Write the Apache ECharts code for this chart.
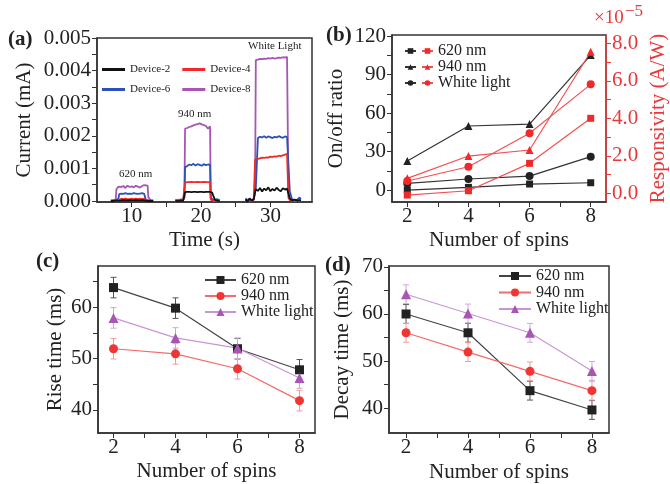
<!DOCTYPE html>
<html>
<head>
<meta charset="utf-8">
<script src="https://cdn.jsdelivr.net/npm/echarts@6/dist/echarts.min.js"></script>
<style>html,body{margin:0;padding:0;background:#fff}#main{width:670px;height:484px}</style>
</head>
<body>
<div id="main"></div>
<script>
// (a) photocurrent (mA) vs time (s), three measurement windows
const t620 = [7.0, 7.4, 7.7, 7.8, 8.1, 8.2, 8.5, 8.8, 9.1, 9.4, 9.7, 10.0, 10.3, 10.6, 10.9, 11.2, 11.5, 11.8, 11.9, 12.0, 12.3, 12.4, 12.7, 13.1];
const d8_620 = [0.00002, 0.00003, 0.00005, 0.00036, 0.00044, 0.00048, 0.00043, 0.00046, 0.00040, 0.00047, 0.00043, 0.00045, 0.00042, 0.00047, 0.00044, 0.00041, 0.00046, 0.00049, 0.00045, 0.00050, 0.00047, 0.00012, 0.00003, 0.00002];
const d6_620 = [0.00001, 0.00002, 0.00002, 0.00003, 0.00008, 0.00021, 0.00023, 0.00022, 0.00024, 0.00022, 0.00023, 0.00022, 0.00024, 0.00023, 0.00022, 0.00023, 0.00024, 0.00022, 0.00023, 0.00006, 0.00002, 0.00001, 0.00002, 0.00001];
const d4_620 = [0.00000, 0.00001, 0.00000, 0.00001, 0.00002, 0.00006, 0.00007, 0.00006, 0.00007, 0.00006, 0.00006, 0.00007, 0.00006, 0.00007, 0.00006, 0.00007, 0.00006, 0.00007, 0.00006, 0.00001, 0.00000, 0.00001, 0.00000, 0.00000];
const d2_620 = [0.00000, 0.00000, 0.00001, 0.00000, 0.00001, 0.00002, 0.00002, 0.00003, 0.00002, 0.00002, 0.00003, 0.00002, 0.00002, 0.00003, 0.00002, 0.00002, 0.00003, 0.00002, 0.00002, 0.00001, 0.00000, 0.00001, 0.00000, 0.00000];

const t940 = [16.3, 16.7, 17.1, 17.4, 17.6, 17.7, 18.0, 18.3, 18.6, 18.9, 19.2, 19.5, 19.8, 20.1, 20.4, 20.7, 21.0, 21.2, 21.3, 21.4, 21.6, 21.8, 22.0, 22.3, 22.7];
const d8_940 = [0.00002, 0.00004, 0.00001, 0.00003, 0.00010, 0.00222, 0.00224, 0.00227, 0.00229, 0.00232, 0.00234, 0.00236, 0.00238, 0.00235, 0.00233, 0.00230, 0.00222, 0.00226, 0.00229, 0.00010, 0.00004, 0.00002, 0.00003, 0.00001, 0.00002];
const d6_940 = [0.00003, 0.00000, 0.00005, 0.00002, 0.00012, 0.00104, 0.00107, 0.00112, 0.00110, 0.00114, 0.00109, 0.00113, 0.00111, 0.00108, 0.00113, 0.00110, 0.00112, 0.00109, 0.00111, 0.00012, 0.00005, 0.00008, 0.00003, 0.00006, 0.00002];
const d4_940 = [0.00000, 0.00001, 0.00000, 0.00001, 0.00004, 0.00056, 0.00058, 0.00058, 0.00059, 0.00058, 0.00058, 0.00059, 0.00058, 0.00058, 0.00059, 0.00058, 0.00058, 0.00058, 0.00057, 0.00004, 0.00001, 0.00000, 0.00001, 0.00000, 0.00000];
const d2_940 = [0.00001, 0.00000, 0.00001, 0.00000, 0.00002, 0.00027, 0.00028, 0.00028, 0.00027, 0.00028, 0.00028, 0.00027, 0.00028, 0.00028, 0.00027, 0.00028, 0.00028, 0.00027, 0.00028, 0.00027, 0.00026, 0.00014, 0.00004, 0.00001, 0.00000];

const tWhite = [26.4, 26.7, 27.0, 27.3, 27.6, 27.8, 27.9, 28.2, 28.5, 28.8, 29.1, 29.4, 29.7, 30.0, 30.3, 30.6, 30.9, 31.2, 31.5, 31.8, 32.1, 32.4, 32.6, 32.8, 33.1, 33.5, 33.9, 34.2, 34.4];
const d8_white = [0.00002, 0.00003, 0.00001, 0.00002, 0.00006, 0.00060, 0.00432, 0.00434, 0.00436, 0.00435, 0.00437, 0.00436, 0.00438, 0.00437, 0.00439, 0.00437, 0.00438, 0.00440, 0.00439, 0.00441, 0.00440, 0.00442, 0.00030, 0.00005, 0.00002, 0.00003, 0.00001, 0.00002, 0.00001];
const d6_white = [0.00008, 0.00003, 0.00006, 0.00002, 0.00005, 0.00010, 0.00040, 0.00193, 0.00197, 0.00195, 0.00199, 0.00194, 0.00198, 0.00196, 0.00193, 0.00197, 0.00195, 0.00199, 0.00196, 0.00194, 0.00198, 0.00196, 0.00199, 0.00030, 0.00006, 0.00003, 0.00004, 0.00011, 0.00005];
const d4_white = [0.00001, 0.00000, 0.00002, 0.00001, 0.00003, 0.00128, 0.00130, 0.00129, 0.00131, 0.00133, 0.00132, 0.00134, 0.00133, 0.00136, 0.00135, 0.00137, 0.00136, 0.00139, 0.00138, 0.00140, 0.00142, 0.00145, 0.00010, 0.00003, 0.00001, 0.00000, 0.00001, 0.00000, 0.00001];
const d2_white = [0.00005, -0.00002, 0.00008, 0.00001, 0.00006, 0.00028, 0.00036, 0.00031, 0.00040, 0.00029, 0.00038, 0.00033, 0.00042, 0.00030, 0.00037, 0.00032, 0.00041, 0.00034, 0.00030, 0.00039, 0.00035, 0.00038, 0.00033, 0.00008, 0.00002, 0.00004, 0.00001, 0.00003, 0.00001];

// (b)-(d) vs number of spins
const spins = [2, 4, 6, 8];
const onoff620 = [0, 2.1, 4.7, 5.7];
const onoff940 = [22.6, 49.9, 51.4, 105.2];
const onoffWhite = [5.2, 8.6, 10.9, 26];
const resp620 = [-0.09, 0.14, 1.6, 4.0];      // x1e-5 A/W
const resp940 = [0.8, 1.99, 2.31, 7.55];
const respWhite = [0.66, 1.42, 3.2, 5.81];

const rise620 = [63.8, 59.8, 51.9, 47.8];
const rise940 = [51.9, 50.9, 48, 41.8];
const riseWhite = [57.9, 54, 52, 46.2];
const riseErr = [2, 2, 2, 2];

const decay620 = [60, 56, 43.7, 39.6];
const decay940 = [56, 51.9, 47.8, 43.7];
const decayWhite = [64.2, 60.1, 56, 47.9];
const decayErr = [2, 2, 2, 2];

const F = 'Liberation Serif';
const INK = '#222';
const BLACK = '#222', RED = '#f02a2a', BLUE = '#2b52b8', PURPLE = '#a855b5';

const zip = (xs, ys) => xs.map((x, i) => [x, ys[i]]);

function xAxisOf(grid, min, max, ticks, labels, name, gap) {
  return {
    gridIndex: grid, type: 'value', min, max,
    name, nameLocation: 'middle', nameGap: gap,
    nameTextStyle: { fontFamily: F, fontSize: 21, color: INK },
    axisLine: { onZero: false, lineStyle: { color: '#333', width: 1.5 } },
    axisTick: { length: 5, lineStyle: { color: '#333' }, customValues: ticks },
    axisLabel: { fontFamily: F, fontSize: 21, color: INK, margin: 4, customValues: labels },
    splitLine: { show: false }
  };
}
function yAxisOf(grid, min, max, ticks, labels, name, gap, fmt, pos, color) {
  const c = color || INK;
  return {
    gridIndex: grid, type: 'value', min, max, position: pos || 'left',
    name, nameLocation: 'middle', nameGap: gap,
    nameTextStyle: { fontFamily: F, fontSize: 21, color: c },
    axisLine: { show: true, onZero: false, lineStyle: { color: color || '#333', width: 1.5 } },
    axisTick: { length: 5, lineStyle: { color: color || '#333' }, customValues: ticks },
    axisLabel: { fontFamily: F, fontSize: 21, color: c, margin: 6, customValues: labels, formatter: fmt },
    splitLine: { show: false }
  };
}

function trace(name, color, t, v) {
  return {
    name, type: 'line', xAxisIndex: 0, yAxisIndex: 0, data: zip(t, v),
    symbol: 'none', lineStyle: { color, width: 1.8 }, itemStyle: { color }
  };
}
function spinLine(name, xi, yi, ys, color, lineColor, symbol, size, width) {
  return {
    name, type: 'line', xAxisIndex: xi, yAxisIndex: yi, data: zip(spins, ys),
    symbol, symbolSize: size, z: 3,
    lineStyle: { color: lineColor, width: width }, itemStyle: { color }
  };
}
function errorBars(xi, yi, ys, errs, color) {
  return {
    type: 'custom', xAxisIndex: xi, yAxisIndex: yi, z: 2, silent: true,
    data: spins.map((s, i) => [s, ys[i] - errs[i], ys[i] + errs[i]]),
    renderItem: (params, api) => {
      const top = api.coord([api.value(0), api.value(2)]);
      const bot = api.coord([api.value(0), api.value(1)]);
      const st = { stroke: color, lineWidth: 1 };
      return { type: 'group', children: [
        { type: 'line', shape: { x1: top[0], y1: top[1], x2: bot[0], y2: bot[1] }, style: st },
        { type: 'line', shape: { x1: top[0] - 3, y1: top[1], x2: top[0] + 3, y2: top[1] }, style: st },
        { type: 'line', shape: { x1: bot[0] - 3, y1: bot[1], x2: bot[0] + 3, y2: bot[1] }, style: st }
      ] };
    }
  };
}

const box = { show: true, borderColor: '#333', borderWidth: 1.5, containLabel: false };
const spinTicks = [2, 3, 4, 5, 6, 7, 8];

const series = [];
[[d8_620, d8_940, d8_white, 'Device-8', PURPLE],
 [d6_620, d6_940, d6_white, 'Device-6', BLUE],
 [d4_620, d4_940, d4_white, 'Device-4', RED],
 [d2_620, d2_940, d2_white, 'Device-2', '#111']].forEach(([a, b, c, n, col]) => {
  series.push(trace(n, col, t620, a), trace(n, col, t940, b), trace(n, col, tWhite, c));
});

// (b)
series.push(
  spinLine('k620', 1, 1, onoff620, BLACK, '#333', 'rect', 7, 1.2),
  spinLine('k940', 1, 1, onoff940, BLACK, '#333', 'triangle', 8, 1.2),
  spinLine('kWhite', 1, 1, onoffWhite, BLACK, '#333', 'circle', 8, 1.2),
  spinLine('620 nm', 1, 2, resp620, RED, '#f45050', 'rect', 7, 1.2),
  spinLine('940 nm', 1, 2, resp940, RED, '#f45050', 'triangle', 8, 1.2),
  spinLine('White light', 1, 2, respWhite, RED, '#f45050', 'circle', 8, 1.2)
);
// (c)
series.push(
  errorBars(2, 3, rise620, riseErr, '#555'),
  errorBars(2, 3, rise940, riseErr, '#f79a9a'),
  errorBars(2, 3, riseWhite, riseErr, '#cfa6dc'),
  spinLine('620 nm ', 2, 3, rise620, BLACK, '#444', 'rect', 9, 1.2),
  spinLine('940 nm ', 2, 3, rise940, '#f03535', '#f56a6a', 'circle', 9, 1.2),
  spinLine('White light ', 2, 3, riseWhite, PURPLE, '#c896d6', 'triangle', 10, 1.2)
);
// (d)
series.push(
  errorBars(3, 4, decay620, decayErr, '#555'),
  errorBars(3, 4, decay940, decayErr, '#f79a9a'),
  errorBars(3, 4, decayWhite, decayErr, '#cfa6dc'),
  spinLine('620 nm  ', 3, 4, decay620, BLACK, '#444', 'rect', 9, 1.2),
  spinLine('940 nm  ', 3, 4, decay940, '#f03535', '#f56a6a', 'circle', 9, 1.2),
  spinLine('White light  ', 3, 4, decayWhite, PURPLE, '#c896d6', 'triangle', 10, 1.2)
);

const legText = (size) => ({ fontFamily: F, fontSize: size, color: INK, lineHeight: size });

const chart = echarts.init(document.getElementById('main'), null, { renderer: 'canvas' });
chart.setOption({
  animation: false,
  backgroundColor: '#fff',
  grid: [
    Object.assign({ left: 97, top: 38, width: 215, height: 164 }, box),
    Object.assign({ left: 392, top: 35, width: 217, height: 167 }, box),
    Object.assign({ left: 98, top: 266, width: 217, height: 167 }, box),
    Object.assign({ left: 389, top: 266, width: 220, height: 168 }, box)
  ],
  xAxis: [
    xAxisOf(0, 5, 36, [10, 15, 20, 25, 30], [10, 20, 30], 'Time (s)', 28),
    xAxisOf(1, 1.5, 8.5, spinTicks, [2, 4, 6, 8], 'Number of spins', 28),
    xAxisOf(2, 1.5, 8.5, spinTicks, [2, 4, 6, 8], 'Number of spins', 28),
    xAxisOf(3, 1.45, 8.55, spinTicks, [2, 4, 6, 8], 'Number of spins', 29)
  ],
  yAxis: [
    yAxisOf(0, -0.00003, 0.005,
      [0, 0.0005, 0.001, 0.0015, 0.002, 0.0025, 0.003, 0.0035, 0.004, 0.0045, 0.005],
      [0, 0.001, 0.002, 0.003, 0.004, 0.005], 'Current (mA)', 62, v => v.toFixed(3)),
    yAxisOf(1, -9.3, 120.8, [0, 15, 30, 45, 60, 75, 90, 105, 120], [0, 30, 60, 90, 120],
      'On/off ratio', 45, v => String(v)),
    yAxisOf(1, -0.46, 8.44, [0, 1, 2, 3, 4, 5, 6, 7, 8], [0, 2, 4, 6, 8],
      'Responsivity (A/W)', 42, v => v.toFixed(1), 'right', '#e8383a'),
    yAxisOf(2, 35.5, 68, [40, 45, 50, 55, 60, 65], [40, 50, 60], 'Rise time (ms)', 32, v => String(v)),
    yAxisOf(3, 34.7, 70.2, [40, 45, 50, 55, 60, 65, 70], [40, 50, 60, 70], 'Decay time (ms)', 36, v => String(v))
  ],
  legend: [
    { data: ['Device-2', 'Device-4'], left: 102, top: 64, padding: 0, icon: 'rect', itemWidth: 23, itemHeight: 3, itemGap: 12, textStyle: legText(11) },
    { data: ['Device-6', 'Device-8'], left: 102, top: 84, padding: 0, icon: 'rect', itemWidth: 23, itemHeight: 3, itemGap: 12, textStyle: legText(11) },
    { data: ['k620', 'k940', 'kWhite'], orient: 'vertical', left: 404, top: 43, padding: 0, itemWidth: 11, itemHeight: 7, itemGap: 0,
      textStyle: Object.assign(legText(16), { color: 'rgba(0,0,0,0)' }) },
    { data: ['620 nm', '940 nm', 'White light'], orient: 'vertical', left: 421, top: 43, padding: 0, itemWidth: 11, itemHeight: 7, itemGap: 0,
      textStyle: legText(16) },
    { data: ['620 nm ', '940 nm ', 'White light '], orient: 'vertical', left: 204, top: 272, padding: 0, itemWidth: 31, itemHeight: 10, itemGap: 0,
      textStyle: legText(16) },
    { data: ['620 nm  ', '940 nm  ', 'White light  '], orient: 'vertical', left: 498, top: 268, padding: 0, itemWidth: 32, itemHeight: 10, itemGap: 0.5,
      textStyle: legText(16) }
  ],
  graphic: [
    { type: 'text', left: 8, top: 29, style: { text: '(a)', font: 'bold 21px "Liberation Serif"', fill: INK } },
    { type: 'text', left: 326, top: 25, style: { text: '(b)', font: 'bold 21px "Liberation Serif"', fill: INK } },
    { type: 'text', left: 36, top: 251, style: { text: '(c)', font: 'bold 21px "Liberation Serif"', fill: INK } },
    { type: 'text', left: 325, top: 255, style: { text: '(d)', font: 'bold 21px "Liberation Serif"', fill: INK } },
    { type: 'text', left: 119, top: 169, style: { text: '620 nm', font: '11px "Liberation Serif"', fill: INK } },
    { type: 'text', left: 178, top: 109, style: { text: '940 nm', font: '11px "Liberation Serif"', fill: INK } },
    { type: 'text', left: 248, top: 41, style: { text: 'White Light', font: '11px "Liberation Serif"', fill: INK } },
    { type: 'text', left: 594, top: 9, style: { text: '×10', font: '19px "Liberation Serif"', fill: '#e8383a' } },
    { type: 'text', left: 625, top: 3, style: { text: '−5', font: '17px "Liberation Serif"', fill: '#e8383a' } }
  ],
  series
});
</script>
</body>
</html>
